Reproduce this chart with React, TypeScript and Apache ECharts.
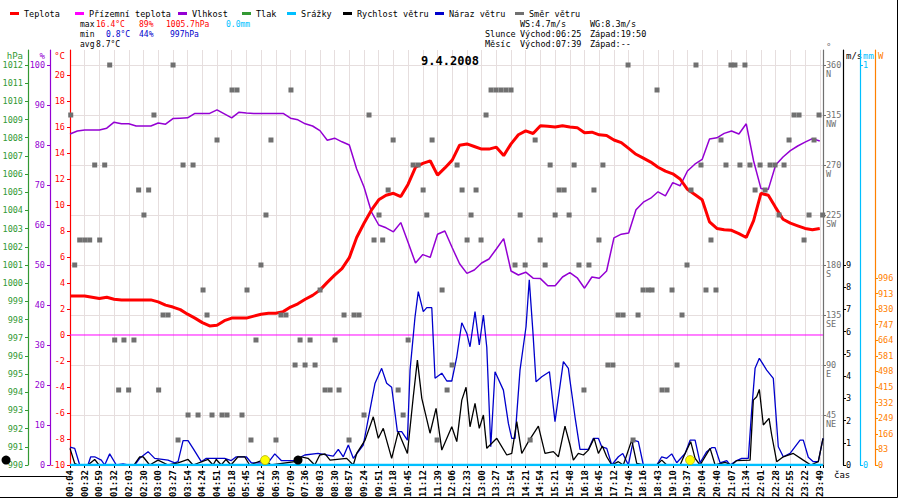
import React, { useEffect, useRef } from "react";
import * as echarts from "echarts";

// popisky osy x (časy měření)
const timeLabels = [
  "00:04", "00:32", "00:59", "01:32", "02:03", "02:30", "03:00", "03:27", "03:54", "04:24",
  "04:51", "05:18", "05:45", "06:12", "06:39", "07:09", "07:36", "08:03", "08:30", "08:57",
  "09:24", "09:51", "10:18", "10:45", "11:12", "11:39", "12:06", "12:33", "13:00", "13:27",
  "13:54", "14:21", "14:54", "15:21", "15:48", "16:18", "16:45", "17:12", "17:46", "18:16",
  "18:43", "19:10", "19:37", "20:04", "20:40", "21:07", "21:34", "22:01", "22:28", "22:55",
  "23:22", "23:49",
];

// teplota °C, po půl dílku osy x
const tempVals = [
  3.0, 3.0, 3.0, 2.9, 2.8, 2.9, 2.75, 2.7, 2.7, 2.7,
  2.7, 2.7, 2.55, 2.3, 2.15, 1.95, 1.6, 1.3, 0.95, 0.7,
  0.75, 1.1, 1.3, 1.3, 1.3, 1.45, 1.6, 1.67, 1.67, 1.8,
  2.15, 2.4, 2.75, 3.05, 3.45, 4.05, 4.6, 5.1, 5.95, 7.5,
  8.6, 9.6, 10.4, 10.75, 10.9, 10.65, 11.6, 12.9, 13.2, 13.4,
  12.3, 12.85, 13.45, 14.6, 14.7, 14.5, 14.3, 14.3, 14.45, 13.8,
  14.7, 15.4, 15.7, 15.5, 16.1, 16.05, 16.0, 16.1, 16.0, 15.95,
  15.55, 15.6, 15.4, 15.35, 15.0, 14.8, 14.35, 13.9, 13.6, 13.3,
  12.9, 12.6, 12.4, 12.0, 11.2, 10.8, 10.4, 8.7, 8.2, 8.1,
  8.05, 7.8, 7.5, 8.8, 10.9, 10.75, 9.8, 8.9, 8.6, 8.4,
  8.2, 8.1, 8.2,
];

// vlhkost %, po půl dílku osy x
const humidityVals = [
  82.75, 83.5, 83.75, 83.75, 83.75, 84.2, 85.7, 85.3, 85.3, 84.75,
  84.75, 84.75, 85.5, 85.2, 86.6, 86.7, 86.8, 87.9, 87.9, 87.9,
  88.8, 87.8, 86.8, 88.2, 88.0, 87.9, 87.9, 87.9, 87.9, 87.9,
  86.7, 86.3, 85.3, 84.75, 83.6, 81.2, 81.7, 80.8, 80.0, 74.0,
  69.5, 63.3, 60.0, 59.3, 58.3, 60.6, 55.6, 50.5, 52.6, 51.9,
  57.7, 58.5, 54.3, 50.3, 47.9, 48.75, 50.5, 51.5, 54.0, 56.6,
  48.5, 47.5, 48.2, 46.7, 46.6, 44.8, 44.8, 47.0, 48.1, 46.8,
  44.2, 47.0, 46.7, 48.5, 56.8, 57.7, 58.0, 63.8, 65.7, 66.7,
  68.3, 67.3, 70.6, 69.8, 73.5, 75.2, 76.4, 81.5, 81.8, 82.9,
  83.5, 82.75, 85.3, 76.0, 69.1, 68.9, 75.0, 77.0, 78.6, 79.75,
  80.7, 81.6, 81.0,
];

// přízemní teplota a srážky (začátek, konec dne)
const groundTempVals = [0, 0];
const rainVals = [0, 0];
const pressureVals: number[][] = [];

// náraz větru m/s: [pozice na ose x, hodnota]
const windGust = [
  [0, 0.8], [0.32, 0.75], [0.66, 0], [1.22, 0], [1.41, 0.37], [1.68, 0.37], [2.13, 0.22], [2.36, 0],
  [2.7, 0.5], [3.15, 0], [3.61, 0.05], [3.95, 0], [4.4, 0], [4.74, 0.3], [5.31, 0.6], [5.76, 0.3],
  [6.67, 0.22], [7.12, 0.1], [7.35, 0.15], [7.69, 1.1], [8.03, 1.1], [8.37, 0.75], [8.93, 0.15],
  [9.27, 0.3], [10.52, 0.3], [10.97, 0.2], [11.31, 0.37], [11.99, 0.37], [12.33, 0.1], [13.47, 0.1],
  [13.93, 0.5], [14.37, 0.2], [15.29, 0.2], [15.73, 0.37], [15.97, 0.45], [16.87, 0.52], [17.91, 0.4],
  [18.25, 0.7], [18.59, 0.37], [18.93, 0.9], [19.27, 0.3], [19.95, 0.9], [20.41, 2.5], [20.75, 3.68],
  [21.2, 4.35], [21.54, 3.68], [21.88, 3.5], [22.27, 1.5], [22.56, 1.5], [22.95, 1.12], [23.13, 4.27],
  [23.47, 6.67], [23.69, 7.8], [24.03, 6.9], [24.27, 7.08], [24.61, 7.08], [24.83, 3.9], [25.29, 4.13],
  [25.63, 3.78], [25.97, 3.78], [26.31, 4.87], [26.65, 6.4], [26.99, 5.93], [27.21, 5.32], [27.55, 6.9],
  [27.84, 5.4], [28.12, 6.75], [28.35, 5.3], [28.62, 0.82], [28.91, 4.2], [29.48, 3.37], [29.82, 1.87],
  [30.05, 1.2], [30.27, 1.2], [30.61, 4.27], [31.02, 6.22], [31.24, 8.33], [31.48, 6.07], [31.7, 3.75],
  [32.09, 3.97], [32.61, 4.2], [32.99, 1.95], [33.56, 4.65], [33.9, 4.35], [34.01, 3.8], [34.35, 2.17],
  [34.69, 0.7], [35.26, 0.7], [35.6, 1.2], [35.94, 1.2], [36.17, 0.82], [36.51, 0.75], [36.85, 0],
  [37.3, 0.37], [37.6, 0.52], [37.98, 0], [38.32, 1.12], [38.66, 1.05], [39, 0], [39.91, 0],
  [40.25, 0.37], [40.59, 0.3], [40.93, 0.5], [41.27, 0.1], [41.84, 0.52], [42.18, 1.12], [42.52, 1.12],
  [42.86, 0.1], [43.31, 0.6], [43.65, 0.78], [43.88, 0.78], [44.22, 0.1], [44.67, 0.2], [44.9, 0],
  [45.35, 0.2], [45.69, 0.3], [46.14, 0.3], [46.37, 2.47], [46.6, 4.35], [46.89, 4.8], [47.39, 4.27],
  [47.84, 3.9], [48.18, 0.82], [48.52, 0.37], [48.98, 0.52], [49.66, 1.12], [49.88, 1.12], [50.22, 0.35],
  [50.56, 0.15], [50.9, 0.15], [51.22, 1.2],
];

// rychlost větru m/s: [pozice na ose x, hodnota]
const windSpeed = [
  [0, 0.75], [0.32, 0.07], [0.54, 0], [1.22, 0], [1.68, 0.25], [1.97, 0], [4.35, 0], [4.74, 0.37],
  [4.97, 0.37], [5.42, 0], [5.99, 0.22], [6.67, 0], [7.35, 0.1], [8.03, 0.25], [8.37, 0], [9.39, 0.25],
  [9.73, 0], [9.95, 0.25], [10.29, 0], [10.61, 0.25], [10.95, 0], [11.43, 0.37], [11.88, 0.37],
  [12.22, 0], [13.24, 0.25], [13.67, 0], [15.29, 0.15], [15.73, 0.37], [16.19, 0.3], [16.65, 0],
  [16.99, 0.45], [17.35, 0.5], [17.69, 0.22], [18.82, 0.3], [19.27, 0], [19.5, 0.52], [20.07, 1.12],
  [20.63, 2.17], [20.97, 1.2], [21.31, 1.65], [21.88, 0.3], [22.33, 1.5], [22.95, 0.52], [23.35, 3.07],
  [23.63, 4.72], [23.93, 3.0], [24.49, 1.43], [24.9, 2.55], [25.29, 0.67], [25.97, 1.72], [26.31, 1.05],
  [26.65, 2.92], [26.94, 3.5], [27.21, 1.72], [27.55, 2.77], [27.84, 1.65], [28.12, 2.25], [28.35, 0.75],
  [29.03, 1.2], [29.71, 0.45], [30.05, 0.52], [30.39, 1.95], [30.73, 0.52], [31.18, 1.05], [31.86, 1.75],
  [32.31, 0.52], [32.88, 0.6], [33.22, 0.37], [33.67, 1.75], [34.01, 0.9], [34.24, 0.22], [34.58, 0.52],
  [34.92, 0.45], [35.26, 0.67], [35.65, 1.2], [35.94, 0.52], [36.21, 0.85], [36.51, 0.37], [36.85, 0],
  [37.3, 0.15], [37.64, 0], [38.21, 1.12], [38.55, 0.07], [39, 0], [39.91, 0], [40.25, 0.22], [40.59, 0],
  [41.5, 0], [41.84, 0.52], [42.22, 1.05], [42.52, 0.3], [42.86, 0], [43.54, 0.75], [43.88, 0],
  [44.56, 0.12], [45.01, 0], [45.35, 0.2], [46.26, 0.22], [46.48, 2.92], [46.71, 3.07], [46.89, 3.4],
  [47.16, 1.8], [47.55, 2.1], [47.73, 1.35], [48.07, 0.15], [48.52, 0.37], [49.2, 0.52], [49.88, 0.22],
  [50.39, 0], [50.9, 0.15], [51.22, 1.2],
];

// směr větru °: [pozice na ose x, směr]
const windDir = [
  [0.05, 315], [0.32, 180], [0.66, 202.5], [1.0, 202.5], [1.34, 202.5], [1.68, 270], [2.02, 202.5],
  [2.36, 270], [2.7, 360], [3.04, 112.5], [3.31, 67.5], [3.67, 112.5], [3.99, 67.5], [4.35, 112.5],
  [4.67, 247.5], [5.03, 225], [5.35, 247.5], [5.71, 315], [6.03, 67.5], [6.33, 135], [6.67, 135],
  [7.01, 360], [7.35, 22.5], [7.69, 270], [8.03, 45], [8.37, 270], [8.71, 45], [9.05, 157.5],
  [9.32, 135], [9.66, 45], [10.0, 292.5], [10.34, 45], [10.68, 45], [11.02, 337.5], [11.36, 337.5],
  [11.7, 45], [12.04, 157.5], [12.31, 22.5], [12.65, 112.5], [12.99, 180], [13.33, 225], [13.67, 292.5],
  [14.01, 22.5], [14.35, 135], [14.69, 135], [15.03, 337.5], [15.31, 90], [15.65, 112.5], [15.99, 90],
  [16.33, 112.5], [16.67, 90], [17.01, 157.5], [17.35, 67.5], [17.69, 67.5], [18.03, 112.5],
  [18.3, 67.5], [18.64, 135], [18.98, 22.5], [19.32, 135], [19.66, 135], [20.0, 45], [20.34, 315],
  [20.68, 202.5], [21.02, 225], [21.27, 202.5], [21.64, 247.5], [21.98, 292.5], [22.32, 67.5],
  [22.66, 45], [23.0, 112.5], [23.34, 270], [23.68, 270], [24.02, 247.5], [24.27, 225], [24.63, 292.5],
  [24.97, 22.5], [25.31, 157.5], [25.65, 67.5], [25.99, 90], [26.33, 270], [26.67, 247.5],
  [27.01, 202.5], [27.28, 225], [27.62, 247.5], [27.96, 202.5], [28.3, 315], [28.64, 337.5],
  [28.98, 337.5], [29.32, 337.5], [29.66, 337.5], [30.0, 337.5], [30.27, 180], [30.62, 225],
  [30.96, 180], [31.3, 22.5], [31.64, 292.5], [31.98, 202.5], [32.32, 180], [32.66, 270], [33.0, 225],
  [33.27, 247.5], [33.61, 247.5], [33.95, 225], [34.29, 270], [34.62, 180], [34.96, 67.5], [35.3, 180],
  [35.64, 247.5], [35.98, 202.5], [36.25, 270], [36.59, 90], [36.93, 90], [37.28, 135], [37.62, 135],
  [37.96, 360], [38.3, 22.5], [38.64, 135], [38.98, 157.5], [39.32, 157.5], [39.59, 157.5],
  [39.93, 337.5], [40.27, 67.5], [40.61, 67.5], [40.95, 157.5], [41.29, 90], [41.63, 135], [41.97, 180],
  [42.24, 247.5], [42.58, 360], [42.92, 270], [43.26, 157.5], [43.6, 202.5], [43.94, 157.5],
  [44.28, 292.5], [44.62, 270], [44.96, 360], [45.23, 360], [45.57, 270], [45.91, 360], [46.25, 270],
  [46.6, 247.5], [46.94, 270], [47.28, 247.5], [47.62, 270], [47.96, 270], [48.23, 225], [48.57, 270],
  [48.91, 292.5], [49.25, 315], [49.59, 315], [49.93, 202.5], [50.27, 225], [50.61, 292.5], [50.95, 315],
  [51.2, 225],
];

// východ/západ slunce a měsíce (pozice na ose x)
const sunMarks = [13.27, 42.18];
const moonMarks = [-4.35, 15.51];

// hodnoty na osách
const tempTicks = [-10, -8, -6, -4, -2, 0, 2, 4, 6, 8, 10, 12, 14, 16, 18, 20];
const humidityTicks = [0, 10, 20, 30, 40, 50, 60, 70, 80, 90, 100];
const pressureTicks = [990, 991, 992, 993, 994, 995, 996, 997, 998, 999, 1000, 1001, 1002, 1003, 1004, 1005, 1006, 1007, 1008, 1009, 1010, 1011, 1012];
const dirTicks = [45, 90, 135, 180, 225, 270, 315, 360];
const dirNames: Record<number, string> = { 45: "NE", 90: "E", 135: "SE", 180: "S", 225: "SW", 270: "W", 315: "NW", 360: "N" };
const speedTicks = [0, 1, 2, 3, 4, 5, 6, 7, 8, 9];
const rainTicks = [0, 1];
const radTicks = [0, 83, 166, 249, 332, 415, 498, 581, 664, 747, 830, 913, 996];

// souhrnné údaje v záhlaví
const statMax = ["16.4°C", "89%", "1005.7hPa", "0.0mm"];
const statMin = ["0.8°C", "44%", "997hPa"];
const statAvg = ["8.7°C"];
const windStats = ["WS:4.7m/s", "WG:8.3m/s"];
const sunTimes = ["Východ:06:25", "Západ:19:50"];
const moonTimes = ["Východ:07:39", "Západ:--"];
const dateTitle = "9.4.2008";

const FONT = '"DejaVu Sans Mono", monospace';
const RED = "#ff0000";
const MAGENTA = "#ff00ff";
const PURPLE = "#9400d3";
const GREEN = "#339933";
const CYAN = "#00bfff";
const BLUE = "#0000cc";
const GRAY = "#707070";
const ORANGE = "#ff8000";
const X_MAX = 51.22; // pravý okraj grafu v dílcích osy x

const half = (vals: number[]) => vals.map((v, i) => [i * 0.5, v]);

// společné nastavení svislých os
const sideAxis = (
  pos: "left" | "right",
  offset: number,
  min: number,
  max: number,
  color: string,
  ticks: number[],
  name: string
): any => ({
  type: "value",
  position: pos,
  offset,
  min,
  max,
  name,
  nameLocation: "end",
  nameGap: -1,
  nameTextStyle: {
    color,
    fontFamily: FONT,
    fontSize: 9,
    align: pos === "left" ? "right" : "left",
    verticalAlign: "top",
    padding: pos === "left" ? [0, 5, 0, 0] : [0, 0, 0, 3],
  },
  axisLine: { show: true, onZero: false, lineStyle: { color, width: 1.2 } },
  axisTick: { show: true, customValues: ticks, length: 3, lineStyle: { color } },
  axisLabel: {
    customValues: ticks,
    color,
    fontFamily: FONT,
    fontSize: 8.5,
    margin: pos === "left" ? 5 : 3,
    formatter: (v: number) => String(v),
  },
  splitLine: { show: false },
});

const txt = (x: number, y: number, text: string, fill = "#000", size = 8): any => ({
  type: "text",
  x,
  y,
  silent: true,
  style: { text, fill, font: `${size}px ${FONT}`, align: "left", verticalAlign: "middle" },
});

const legendNames = ["Teplota", "Přízemní teplota", "Vlhkost", "Tlak", "Srážky", "Rychlost větru", "Náraz větru", "Směr větru"];
const legendLeft = [5, 70, 173, 237, 282, 338, 430, 510];

const buildOption = (): echarts.EChartsOption => ({
  animation: false,
  backgroundColor: "#ffffff",
  title: {
    text: dateTitle,
    left: "center",
    top: 50,
    textStyle: { fontFamily: FONT, fontSize: 12, fontWeight: "bold", color: "#000" },
  },
  legend: legendNames.map((n, i) => ({
    data: [n],
    left: legendLeft[i],
    top: 4,
    icon: "rect",
    itemWidth: 9,
    itemHeight: 3,
    selectedMode: false,
    textStyle: { fontFamily: FONT, fontSize: 8.5, color: "#000" },
  })) as any,
  grid: { left: 70, right: 77, top: 50, bottom: 35, outerBoundsMode: "none" } as any,
  xAxis: {
    type: "value",
    min: 0,
    max: X_MAX,
    interval: 1,
    axisLine: { onZero: false, lineStyle: { color: "#000" } },
    axisTick: { show: true, length: 3, lineStyle: { color: "#000" } },
    axisLabel: {
      rotate: 90,
      margin: 5,
      color: "#000",
      fontFamily: FONT,
      fontSize: 9,
      fontWeight: "bold",
      formatter: (v: number) => (Number.isInteger(v) ? timeLabels[v] ?? "" : ""),
    },
    splitLine: { show: true, lineStyle: { color: "#e6dede" } },
  },
  yAxis: [
    sideAxis("left", 0, -10, 21.923, RED, tempTicks, "°C"),
    sideAxis("left", 20, 0, 103.75, PURPLE, humidityTicks, "%"),
    sideAxis("left", 42, 990, 1012.825, GREEN, pressureTicks, "hPa"),
    {
      ...sideAxis("right", 0, 0, 373.5, GRAY, dirTicks, "°"),
      interval: 45,
      splitLine: { show: true, lineStyle: { color: "#e6dede" } },
      axisLabel: {
        customValues: dirTicks,
        color: GRAY,
        fontFamily: FONT,
        fontSize: 8.5,
        margin: 3,
        lineHeight: 9,
        formatter: (v: number) => ` \n${v}\n${dirNames[v] ?? ""}`,
      },
    },
    sideAxis("right", 20, 0, 18.675, "#000", speedTicks, "m/s"),
    sideAxis("right", 37, 0, 1.0375, CYAN, rainTicks, "mm"),
    sideAxis("right", 52, 0, 2210, ORANGE, radTicks, "W"),
  ] as any,
  graphic: [
    txt(80, 24, "max"),
    txt(96, 24, statMax[0], RED),
    txt(139, 24, statMax[1], RED),
    txt(166, 24, statMax[2], RED),
    txt(226, 24, statMax[3], CYAN),
    txt(80, 34, "min"),
    txt(106, 34, statMin[0], BLUE),
    txt(139, 34, statMin[1], BLUE),
    txt(170, 34, statMin[2], BLUE),
    txt(80, 44, "avg"),
    txt(96, 44, statAvg[0]),
    txt(520, 24, windStats[0], "#000", 8.5),
    txt(590, 24, windStats[1], "#000", 8.5),
    txt(485, 34, "Slunce", "#000", 8.5),
    txt(520, 34, sunTimes[0], "#000", 8.5),
    txt(590, 34, sunTimes[1], "#000", 8.5),
    txt(485, 44, "Měsíc", "#000", 8.5),
    txt(520, 44, moonTimes[0], "#000", 8.5),
    txt(590, 44, moonTimes[1], "#000", 8.5),
    txt(834, 475, "čas", "#000", 9),
    { type: "line", silent: true, shape: { x1: 897.5, y1: 0, x2: 897.5, y2: 497.5 }, style: { stroke: "#000", lineWidth: 1 } },
    { type: "line", silent: true, shape: { x1: 0, y1: 497.5, x2: 897.5, y2: 497.5 }, style: { stroke: "#000", lineWidth: 1 } },
    { type: "line", silent: true, shape: { x1: 0, y1: 476.5, x2: 67, y2: 476.5 }, style: { stroke: "#000", lineWidth: 1 } },
  ],
  series: [
    {
      name: "Vlhkost",
      type: "line",
      yAxisIndex: 1,
      data: half(humidityVals),
      showSymbol: false,
      itemStyle: { color: PURPLE },
      lineStyle: { color: PURPLE, width: 1.5 },
      z: 2,
    },
    {
      name: "Přízemní teplota",
      type: "line",
      yAxisIndex: 0,
      data: [[0, groundTempVals[0]], [X_MAX, groundTempVals[1]]],
      showSymbol: false,
      itemStyle: { color: MAGENTA },
      lineStyle: { color: MAGENTA, width: 1 },
      z: 2,
    },
    {
      name: "Teplota",
      type: "line",
      yAxisIndex: 0,
      data: half(tempVals),
      showSymbol: false,
      itemStyle: { color: RED },
      lineStyle: { color: RED, width: 3 },
      z: 3,
    },
    {
      name: "Tlak",
      type: "line",
      yAxisIndex: 2,
      data: pressureVals,
      showSymbol: false,
      itemStyle: { color: GREEN },
      lineStyle: { color: GREEN, width: 1.5 },
    },
    {
      name: "Náraz větru",
      type: "line",
      yAxisIndex: 4,
      data: windGust,
      showSymbol: false,
      itemStyle: { color: BLUE },
      lineStyle: { color: BLUE, width: 1.3 },
      z: 3,
    },
    {
      name: "Rychlost větru",
      type: "line",
      yAxisIndex: 4,
      data: windSpeed,
      showSymbol: false,
      itemStyle: { color: "#000" },
      lineStyle: { color: "#000", width: 1.3 },
      z: 4,
    },
    {
      name: "Srážky",
      type: "line",
      yAxisIndex: 5,
      data: [[0, rainVals[0]], [X_MAX, rainVals[1]]],
      showSymbol: false,
      itemStyle: { color: CYAN },
      lineStyle: { color: CYAN, width: 2.5 },
      z: 5,
    },
    {
      name: "Směr větru",
      type: "scatter",
      yAxisIndex: 3,
      data: windDir,
      symbol: "rect",
      symbolSize: 5,
      itemStyle: { color: GRAY, opacity: 1 },
      z: 6,
    },
    {
      name: "Slunce",
      type: "scatter",
      yAxisIndex: 4,
      data: sunMarks.map((x) => [x, 0.22]),
      symbol: "circle",
      symbolSize: 9,
      itemStyle: { color: "#ffff00", borderColor: "#b0b000", borderWidth: 0.8, opacity: 1 },
      z: 7,
    },
    {
      name: "Měsíc",
      type: "scatter",
      yAxisIndex: 4,
      data: moonMarks.map((x) => [x, 0.22]),
      symbol: "circle",
      symbolSize: 9,
      clip: false,
      itemStyle: { color: "#000", opacity: 1 },
      z: 7,
    },
  ] as any,
});

const App: React.FC = () => {
  const chartRef = useRef<HTMLDivElement>(null);

  useEffect(() => {
    const chart = echarts.init(chartRef.current, null, { renderer: "svg" });
    chart.setOption(buildOption());
    return () => chart.dispose();
  }, []);

  return (
    <div
      ref={chartRef}
      style={{ position: "absolute", left: 0, top: 0, width: 900, height: 500, background: "#fff" }}
    />
  );
};

export default App;
